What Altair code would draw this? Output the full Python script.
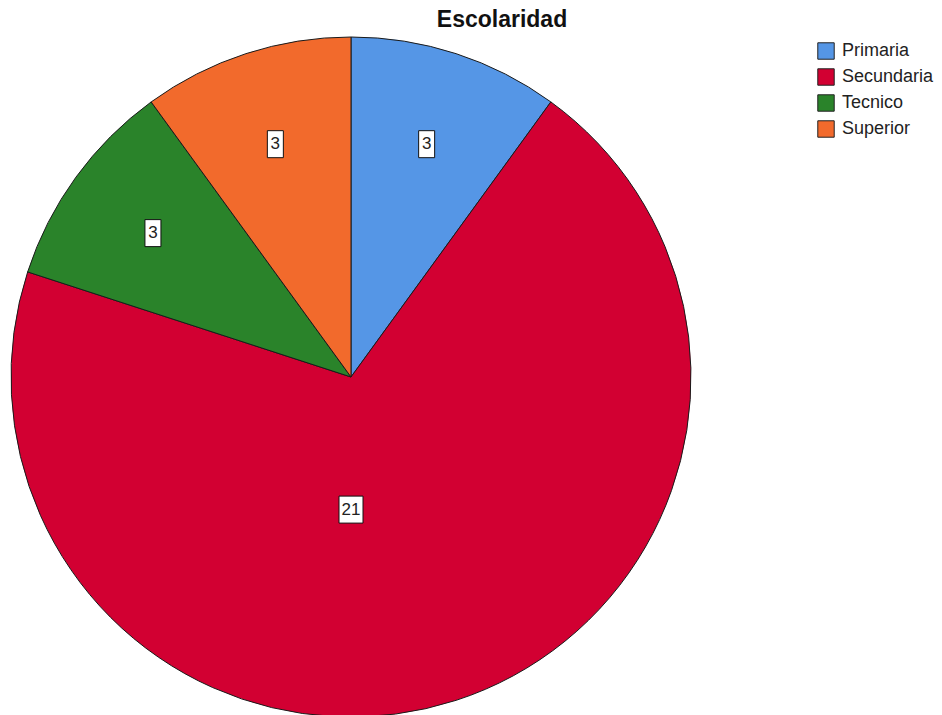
import math
import altair as alt
import pandas as pd

categories = ["Primaria", "Secundaria", "Tecnico", "Superior"]
counts = [3, 21, 3, 3]
colors = ["#5596E6", "#D20032", "#2A832A", "#F26A2C"]

# layout (pixels, view coords)
CX, CY, R = 343, 339, 340

total = sum(counts)
rows = []
start = 0.0
for i, (c, v) in enumerate(zip(categories, counts)):
    frac = v / total
    mid = (start + frac / 2) * 2 * math.pi
    if frac > 0.5:
        a, r = math.pi, 0.39 * R
    else:
        a, r = mid, 0.72 * R
    lx = CX + r * math.sin(a)
    ly = CY - r * math.cos(a)
    txt = str(v)
    w = 8 + 8 * len(txt)
    h = 27
    rows.append(dict(cat=c, value=v, order=i, label=txt, lx=lx, ly=ly,
                     bx=lx - w / 2, bx2=lx + w / 2, by=ly - h / 2, by2=ly + h / 2))
    start += frac
df = pd.DataFrame(rows)

base = alt.Chart(df)

pie = base.mark_arc(stroke="#1a1a1a", strokeWidth=1).encode(
    theta=alt.Theta("value:Q", stack=True),
    order=alt.Order("order:Q"),
    color=alt.Color(
        "cat:N",
        scale=alt.Scale(domain=categories, range=colors),
        sort=categories,
        legend=alt.Legend(
            title=None,
            orient="none",
            legendX=809,
            legendY=4,
            symbolType="square",
            symbolSize=270,
            symbolStrokeColor="#222222",
            symbolStrokeWidth=1,
            symbolOpacity=1,
            labelFont="Liberation Sans",
            labelFontSize=18,
            labelColor="#222222",
            labelOffset=7,
            rowPadding=4,
        ),
    ),
    x=alt.value(CX),
    y=alt.value(CY),
    radius=alt.value(R),
)

boxes = base.mark_rect(fill="white", stroke="#111111", strokeWidth=1).encode(
    x=alt.X("bx:Q", scale=None),
    x2="bx2:Q",
    y=alt.Y("by:Q", scale=None),
    y2="by2:Q",
)

labels = base.mark_text(font="Liberation Sans Narrow, Liberation Sans", fontSize=17, color="#222222",
                        align="center", baseline="middle").encode(
    x=alt.X("lx:Q", scale=None),
    y=alt.Y("ly:Q", scale=None),
    text="label:N",
)

chart = alt.layer(pie, boxes, labels).properties(
    width=926,
    height=677,
    padding={"left": 0, "top": 30, "right": 0, "bottom": 0},
    autosize=alt.AutoSizeParams(type="none"),
    title=alt.TitleParams(
        "Escolaridad",
        font="Liberation Sans",
        fontSize=23,
        fontWeight="bold",
        color="#111111",
        anchor="middle",
        dx=31,
        offset=3,
    ),
).configure_view(stroke=None)

chart.save("out.html", embed_options={"renderer": "svg", "actions": False})
